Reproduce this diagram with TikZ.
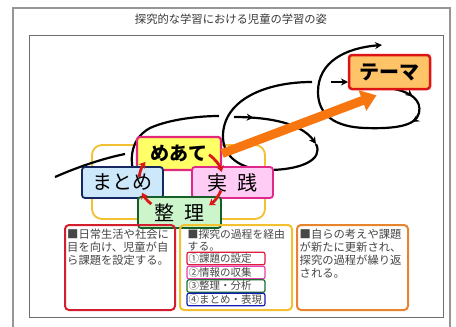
\documentclass[tikz,border=0pt]{standalone}
\usepackage{fontspec}
\setmainfont{Noto Sans CJK JP}
\usetikzlibrary{arrows.meta,decorations.markings}
\usepackage{xcolor}
\definecolor{goalfill}{RGB}{255,255,102}
\definecolor{goalline}{RGB}{226,40,124}
\definecolor{summaryfill}{RGB}{204,232,250}
\definecolor{summaryline}{RGB}{22,40,96}
\definecolor{practicefill}{RGB}{255,204,245}
\definecolor{practiceline}{RGB}{224,40,140}
\definecolor{sortfill}{RGB}{204,245,204}
\definecolor{sortline}{RGB}{22,96,40}
\definecolor{themefill}{RGB}{255,196,104}
\definecolor{themeline}{RGB}{222,20,20}
\definecolor{themearrow}{RGB}{248,118,16}
\definecolor{ringline}{RGB}{242,192,48}
\definecolor{cyclered}{RGB}{218,24,24}
\definecolor{panelred}{RGB}{210,30,45}
\definecolor{panelorange}{RGB}{232,132,48}
\definecolor{procred}{RGB}{220,30,60}
\definecolor{procpink}{RGB}{232,64,176}
\definecolor{procgreen}{RGB}{30,110,50}
\definecolor{procblue}{RGB}{20,30,180}
\definecolor{notegray}{RGB}{70,70,70}
\definecolor{titlegray}{RGB}{55,55,55}
\definecolor{outergray}{RGB}{150,150,150}
\definecolor{innergray}{RGB}{110,110,110}

\begin{document}
\begin{tikzpicture}[
x=1pt, y=-1pt,
stage/.style={
	rectangle, rounded corners=3pt,
	inner sep=0pt, draw, line width=1.8pt,
	minimum width=81pt, minimum height=31pt,
	font=\fontsize{20}{20}\selectfont,
},
panel/.style={
	rectangle, rounded corners=4pt,
	inner sep=0pt, draw, line width=2pt,
	minimum width=110pt, minimum height=85pt,
},
note/.style={
	anchor=north west, inner sep=0pt,
	align=left, text=notegray,
	font=\fontsize{11.3}{13}\selectfont,
},
procbox/.style={
	rectangle, rounded corners=2pt,
	inner xsep=1.5pt, inner ysep=0pt, draw, line width=1.2pt,
	text width=75pt, minimum height=12.5pt, align=left,
	text=notegray, font=\fontsize{10.5}{10.5}\selectfont,
},
coil/.style={draw=black, line width=2.2pt},
flow/.style={postaction={decorate, decoration={markings,
	mark=at position #1 with {\arrow{Stealth[length=7pt,width=7pt]}}}}},
turnarrow/.style={draw=cyclered, line width=2.8pt,
	-{Stealth[length=6pt,width=8pt]}},
]
\useasboundingbox (0,0) rectangle (456,327);
\fill[white] (0,0) rectangle (456,327);
\draw[draw=outergray, line width=1.5pt] (13,330) |- (450,8) -- (450,330);
\draw[draw=innergray, line width=0.8pt] (29,35) rectangle (443,317);
\node[text=titlegray, font=\fontsize{11.3}{12}\selectfont] (heading) at (231,19) {探究的な学習における児童の学習の姿};

\node[draw=ringline, line width=1.8pt, rounded corners=10pt,
	minimum width=173pt, minimum height=74pt] (ring) at (178.5,182) {};

% spiral of the learning process
\draw[coil] (55,177) .. controls (80,166) and (105,158) .. (125,154);
\draw[coil] (137,182) .. controls (129,165) and (128,140) .. (150,128)
	.. controls (170,119) and (200,116) .. (219,116);
\draw[coil, flow=0.22, -{Stealth[length=7pt,width=7pt]}] (234,117)
	.. controls (262,117) and (300,121) .. (316,144);
\draw[coil] (316,144) .. controls (324,160) and (300,170) .. (268,170)
	.. controls (240,170) and (222,156) .. (223,135)
	.. controls (224,100) and (265,82) .. (312,82);
\draw[coil, -{Stealth[length=7pt,width=7pt]}] (331,82) -- (348,82);
\draw[coil, flow=0.08, flow=0.2, -{Stealth[length=7pt,width=7pt]}] (394,89)
	.. controls (410,92) and (422,100) .. (419,113)
	.. controls (416,126) and (395,129) .. (365,128)
	.. controls (335,127) and (318,115) .. (318,92)
	.. controls (318,62) and (345,48) .. (382,45);

\node[stage, fill=themefill, draw=themeline, line width=2.5pt, minimum height=34pt,
	font=\fontsize{20}{20}\selectfont\bfseries] (theme) at (389.5,72) {テーマ};
\node[stage, fill=goalfill, draw=goalline, line width=2.2pt,
	minimum width=84pt, minimum height=33pt,
	font=\fontsize{19}{19}\selectfont\bfseries] (goal) at (179,153.5) {めあて};
\draw[line width=9pt, draw=themearrow, -{Triangle[length=15pt,width=21pt]}]
	(goal.east) -- ([xshift=-13pt,yshift=-5pt]theme.south);
\node[stage, fill=summaryfill, draw=summaryline] (summary) at (122.5,182.5) {まとめ};
\node[stage, fill=practicefill, draw=practiceline] (practice) at (232.5,182.5) {実\hspace{0.5em}践};
\node[stage, fill=sortfill, draw=sortline, minimum width=83pt] (sorting) at (179.5,212.5) {整\hspace{0.5em}理};

\coordinate (hub) at (181,180);
\draw[turnarrow] ([shift={(-48:42 and 34)}]hub) arc[start angle=-48, end angle=-14, x radius=42, y radius=34];
\draw[turnarrow] ([shift={(18:42 and 34)}]hub) arc[start angle=18, end angle=48, x radius=42, y radius=34];
\draw[turnarrow] ([shift={(135:42 and 34)}]hub) arc[start angle=135, end angle=158, x radius=42, y radius=34];
\draw[turnarrow] ([shift={(185:42 and 34)}]hub) arc[start angle=185, end angle=212, x radius=42, y radius=34];

\node[panel, draw=panelred] (aim) at (120,267.5) {};
\node[panel, draw=ringline, minimum width=112pt] (route) at (236,267.5) {};
\node[panel, draw=panelorange, minimum width=111pt] (renew) at (352.5,267.5) {};
\node[note] (aimtext) at (67,229) {■日常生活や社会に\\目を向け、児童が自\\ら課題を設定する。};
\node[note, font=\fontsize{10.8}{12}\selectfont] (routetext) at (187.5,229) {■探究の過程を経由\\する。};
\node[note] (renewtext) at (299.5,229) {■自らの考えや課題\\が新たに更新され、\\探究の過程が繰り返\\される。};
\node[procbox, draw=procred] (setting) at (226,258.5) {①課題の設定};
\node[procbox, draw=procpink] (gathering) at (226,272.5) {②情報の収集};
\node[procbox, draw=procgreen] (analysis) at (226,286) {③整理・分析};
\node[procbox, draw=procblue] (expression) at (226,299.5) {④まとめ・表現};
\end{tikzpicture}
\end{document}
